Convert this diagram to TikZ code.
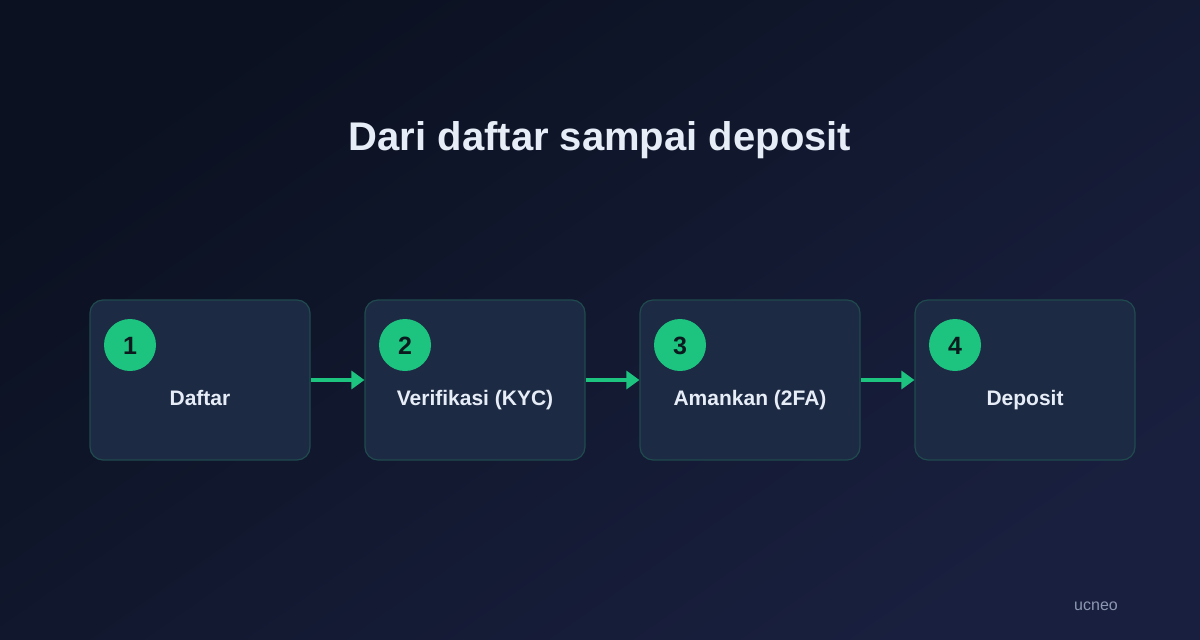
\documentclass[tikz,border=0pt]{standalone}
\usepackage{fontspec}
\setmainfont{Liberation Sans}
\usetikzlibrary{arrows.meta}
\definecolor{bgA}{HTML}{0B1120}
\definecolor{bgB}{HTML}{19203F}
\definecolor{boxfill}{HTML}{1D2A44}
\definecolor{boxline}{HTML}{1F4A4E}
\definecolor{accent}{HTML}{1CC47F}
\definecolor{titlec}{HTML}{E6EDF7}
\definecolor{numc}{HTML}{0B1A1E}
\definecolor{markc}{HTML}{8C98B2}
\begin{document}
\begin{tikzpicture}[x=1pt,y=-1pt,
  stepbox/.style={draw=boxline, line width=1.2pt, fill=boxfill, rounded corners=13pt, minimum width=220pt, minimum height=160pt, inner sep=0pt},
  numdot/.style={circle, fill=accent, minimum size=52pt, inner sep=0pt},
  numtxt/.style={font=\fontsize{25}{28}\selectfont\bfseries, text=numc, anchor=base, inner sep=0pt},
  lbl/.style={font=\fontsize{21}{24}\selectfont\bfseries, text=titlec, anchor=base, inner sep=0pt},
  flow/.style={draw=accent, line width=3.5pt, -{Triangle[length=13pt,width=18pt]}}]
\useasboundingbox (0,0) rectangle (1200,640);
\shade[top color=bgA, bottom color=bgB, shading angle=35] (0,0) rectangle (1200,640);
\node[font=\fontsize{40}{46}\selectfont\bfseries, text=titlec, anchor=base, inner sep=0pt] (title) at (600,150) {Dari daftar sampai deposit};
\foreach \i/\x/\t in {1/90/Daftar, 2/365/Verifikasi (KYC), 3/640/Amankan (2FA), 4/915/Deposit}{
  \node[stepbox] (b\i) at (\x+110,380) {};
  \node[numdot] (n\i) at (\x+40,345) {};
  \node[numtxt] (t\i) at (\x+40,354) {\i};
  \node[lbl] (l\i) at (\x+110,405) {\t};
}
\draw[flow] (b1.east) -- (b2.west);
\draw[flow] (b2.east) -- (b3.west);
\draw[flow] (b3.east) -- (b4.west);
\node[font=\fontsize{16}{19}\selectfont, text=markc, anchor=base, inner sep=0pt] (mark) at (1096,610) {ucneo};
\end{tikzpicture}
\end{document}
